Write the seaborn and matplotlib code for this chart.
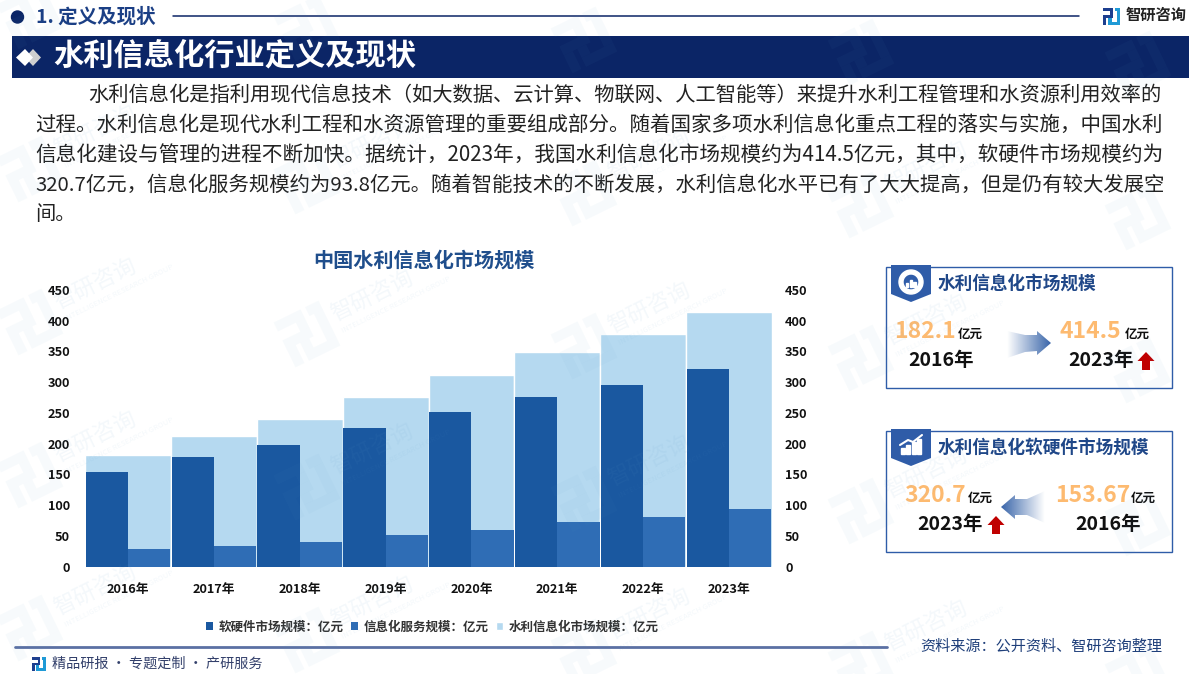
import matplotlib
matplotlib.use('Agg')
import matplotlib.pyplot as plt
import matplotlib.patches as mpatches
from matplotlib.colors import LinearSegmentedColormap
from matplotlib.transforms import Affine2D
import numpy as np
import pandas as pd
import seaborn as sns

# chart data
years = ['2016年', '2017年', '2018年', '2019年', '2020年', '2021年', '2022年', '2023年']
hardware = [153.67, 178, 198, 226, 251, 276, 295, 320.7]
service = [28.4, 34, 40, 51, 60, 72, 81, 93.8]
total = [182.1, 212, 240, 276.6, 312, 349, 378, 414.5]
y_ticks = [0, 50, 100, 150, 200, 250, 300, 350, 400, 450]

name_hardware = '软硬件市场规模：亿元'
name_service = '信息化服务规模：亿元'
name_total = '水利信息化市场规模：亿元'

# page text
body_lines = [
    '水利信息化是指利用现代信息技术（如大数据、云计算、物联网、人工智能等）来提升水利工程管理和水资源利用效率的',
    '过程。水利信息化是现代水利工程和水资源管理的重要组成部分。随着国家多项水利信息化重点工程的落实与实施，中国水利',
    '信息化建设与管理的进程不断加快。据统计，2023年，我国水利信息化市场规模约为414.5亿元，其中，软硬件市场规模约为',
    '320.7亿元，信息化服务规模约为93.8亿元。随着智能技术的不断发展，水利信息化水平已有了大大提高，但是仍有较大发展空',
    '间。',
]

sns.set_style('white')
plt.rcParams['font.family'] = ['Noto Sans CJK SC', 'DejaVu Sans']

NAVY = '#0b2566'
TITLE_BLUE = '#1f4e8c'
CARD_BLUE = '#2f5ca8'
ORANGE = '#fdba70'
RED = '#c00000'
WM = '#5c9ccb'

fig = plt.figure(figsize=(12, 6.74), dpi=100)

# page axes in pixel coordinates, under the chart
page = fig.add_axes([0, 0, 1, 1], zorder=0)
page.set_xlim(0, 1200)
page.set_ylim(674, 0)
page.axis('off')


def poly(ax, pts, color, **kw):
    ax.add_patch(mpatches.Polygon(pts, closed=True, facecolor=color, edgecolor='none', **kw))


def logo(ax, x, y, s, c1, c2, rot=0, **kw):
    # the three-stroke company mark, s is the width of it
    u = s / 10
    boxes = [
        (0, 0, 6, 2, c1), (4, 2, 2, 2, c1), (0, 4, 6, 2, c1), (0, 6, 2, 4, c1),
        (7, 0, 3, 2, c2), (8, 2, 2, 6, c2), (3, 8, 7, 2, c2), (3, 6, 2, 2, c2),
    ]
    tr = Affine2D().rotate_deg_around(x + s / 2, y + s / 2, rot) + ax.transData
    for bx, by, bw, bh, c in boxes:
        ax.add_patch(mpatches.Rectangle((x + bx * u, y + by * u), bw * u, bh * u,
                                        facecolor=c, edgecolor='none', transform=tr, **kw))


def gradient_arrow(ax, pts, left_col, right_col):
    cmap = LinearSegmentedColormap.from_list('arr', [left_col, right_col])
    xs = [p[0] for p in pts]
    ys = [p[1] for p in pts]
    im = ax.imshow(np.linspace(0, 1, 64).reshape(1, -1), cmap=cmap, aspect='auto',
                   extent=(min(xs), max(xs), max(ys), min(ys)), zorder=3)
    clip = mpatches.Polygon(pts, closed=True, transform=ax.transData)
    im.set_clip_path(clip)
    ax.set_xlim(0, 1200)
    ax.set_ylim(674, 0)


def up_arrow(ax, cx, top):
    poly(ax, [(cx, top), (cx + 8.5, top + 9), (cx + 4, top + 9), (cx + 4, top + 18),
              (cx - 4, top + 18), (cx - 4, top + 9), (cx - 8.5, top + 9)], RED, zorder=3)


# header
page.add_patch(mpatches.Circle((17.5, 17), 6, color=NAVY))
page.text(36, 17, '1. 定义及现状', fontsize=14, fontweight='bold', color='#1b3f85', va='center')
page.plot([173, 1079], [16, 16], color=NAVY, lw=1.1)
logo(page, 1103, 8, 17, '#1d3f8f', '#1f9ad6')
page.text(1126, 15, '智研咨询', fontsize=11, fontweight='bold', color='#222222', va='center')

page.add_patch(mpatches.Rectangle((12, 36), 1177, 42, facecolor=NAVY, edgecolor='none'))
poly(page, [(33, 49), (41, 57.5), (33, 66), (25, 57.5)], '#cfcfcf', zorder=3)
poly(page, [(25, 49), (33, 57.5), (25, 66), (16, 57.5)], 'white', zorder=3)
page.text(53, 56, '水利信息化行业定义及现状', fontsize=21.8, fontweight='bold', color='white',
          va='center', zorder=3)

# body text, lines are fitted to the right margin like the justified original
renderer = fig.canvas.get_renderer()
line_x = [88, 35, 35, 35, 35]
line_y = [95, 125, 155, 185, 215]
for i, (s, lx, ly) in enumerate(zip(body_lines, line_x, line_y)):
    t = page.text(lx, ly, s, fontsize=14.6, color='#222222', va='center')
    if i < 4:
        t.set_fontsize(14.6 * (1162 - lx) / t.get_window_extent(renderer).width)

page.text(424, 260, '中国水利信息化市场规模', fontsize=14.5, fontweight='bold', color=TITLE_BLUE,
          ha='center', va='center')


def card(ax, top, title, icon):
    ax.add_patch(mpatches.Rectangle((885.5, top), 286, 121, facecolor='none',
                                    edgecolor=CARD_BLUE, lw=1))
    poly(ax, [(891, top - 2), (931, top - 2), (931, top + 27), (911, top + 35), (891, top + 27)],
         CARD_BLUE, zorder=3)
    ax.text(938, top + 17, title, fontsize=12.7, fontweight='bold', color='#1f4788', va='center')
    cx, cy = 911, top + 15
    if icon == 'donut':
        ax.add_patch(mpatches.Wedge((cx, cy), 12, 0, 360, width=4, color='white', zorder=4))
        for i, h in enumerate([4, 7, 5]):
            ax.add_patch(mpatches.Rectangle((cx - 5 + i * 3.6, cy + 5 - h), 2.4, h, color='white', zorder=4))
    else:
        for i, h in enumerate([6, 9, 12, 15]):
            ax.add_patch(mpatches.Rectangle((cx - 10 + i * 5.4, cy + 8 - h), 3.8, h, color='white', zorder=4))
        ax.plot([cx - 11, cx - 3, cx + 2, cx + 11], [cy - 1, cy - 6, cy - 4, cy - 11], color='white', lw=1.5, zorder=4)


def big_value(ax, x, y, value, unit_x):
    ax.text(x, y, value, fontsize=16.5, fontweight='bold', color=ORANGE, va='center', zorder=3)
    ax.text(unit_x, y + 2, '亿元', fontsize=9, fontweight='bold', color='#111111', va='center', zorder=3)


def year_label(ax, x, y, s):
    ax.text(x, y, s, fontsize=14, fontweight='bold', color='#111111', va='center', zorder=3)


card(page, 267, '水利信息化市场规模', 'donut')
big_value(page, 894, 332, '182.1', 958)
big_value(page, 1059, 332, '414.5', 1125)
year_label(page, 908, 361, '2016年')
year_label(page, 1068, 361, '2023年')
up_arrow(page, 1146, 352)
gradient_arrow(page, [(1007, 331), (1025, 335), (1037, 335), (1037, 331), (1051, 343),
                      (1037, 355), (1037, 351), (1025, 352), (1007, 358)], '#ffffff', '#3a66aa')

card(page, 431, '水利信息化软硬件市场规模', 'chart')
big_value(page, 904, 496, '320.7', 968)
big_value(page, 1055, 496, '153.67', 1131)
year_label(page, 917, 525, '2023年')
year_label(page, 1075, 525, '2016年')
up_arrow(page, 996, 516)
gradient_arrow(page, [(1045, 491), (1027, 499), (1015, 499), (1015, 495), (1001, 507),
                      (1015, 519), (1015, 515), (1027, 515), (1045, 523)], '#3a66aa', '#ffffff')

# footer
page.plot([15, 887], [647, 647], color='#5b70a3', lw=2)
page.text(920, 646, '资料来源：公开资料、智研咨询整理', fontsize=10.9, color='#1f3f7a', va='center')
logo(page, 32, 657, 14, '#1d3f8f', '#1f9ad6')
page.text(52, 664, '精品研报 · 专题定制 · 产研服务', fontsize=10.2, color='#33406b', va='center')

# bar chart
w, h = 1200, 674
ax = fig.add_axes([85 / w, 1 - 566.5 / h, 687 / w, 276.5 / h], zorder=2)
ax.patch.set_alpha(0)

df = pd.DataFrame({'year': years, name_hardware: hardware, name_service: service})
df_long = df.melt(id_vars='year', var_name='series', value_name='value')

sns.barplot(x=years, y=total, color='#b5d9f0', saturation=1, width=1, edgecolor='white',
            linewidth=1, label=name_total, ax=ax)
sns.barplot(data=df_long, x='year', y='value', hue='series',
            palette=['#1a58a0', '#2f6db5'], saturation=1, width=0.985, linewidth=0, ax=ax)

ax.set_ylim(0, 450)
ax.set_yticks(y_ticks)
ax.set_xlabel('')
ax.set_ylabel('')
ax.tick_params(axis='both', length=0, labelsize=9.2)
ax.tick_params(axis='y', pad=10.8)
ax.tick_params(axis='x', pad=12)
for lab in ax.get_xticklabels() + ax.get_yticklabels():
    lab.set_fontweight('bold')
    lab.set_color('#111111')
sns.despine(ax=ax, left=True, bottom=True)

ax2 = ax.twinx()
ax2.set_ylim(0, 450)
ax2.set_yticks(y_ticks)
ax2.tick_params(axis='y', length=0, labelsize=9.2, pad=9.4)
for lab in ax2.get_yticklabels():
    lab.set_fontweight('bold')
    lab.set_color('#111111')
sns.despine(ax=ax2, left=True, bottom=True, right=True)

handles, labels = ax.get_legend_handles_labels()
order = [labels.index(name_hardware), labels.index(name_service), labels.index(name_total)]
leg = ax.legend([handles[i] for i in order], [labels[i] for i in order], ncol=3,
                loc='center', bbox_to_anchor=(432 / w, 1 - 627 / h), bbox_transform=fig.transFigure,
                frameon=False, fontsize=9, handlelength=0.6, handleheight=0.6, handletextpad=0.4,
                columnspacing=0.6, borderpad=0)
for t in leg.get_texts():
    t.set_fontweight('bold')
    t.set_color('#333333')

# watermark over everything, very faint
mark = fig.add_axes([0, 0, 1, 1], zorder=5)
mark.set_xlim(0, 1200)
mark.set_ylim(674, 0)
mark.axis('off')
mark.patch.set_alpha(0)
for row in range(-2, 3):
    for col in range(5):
        wx = 30 + 277 * col
        wy = 322 + 153 * row + 12 * col
        logo(mark, wx - 25, wy - 25, 50, WM, WM, rot=-26, alpha=0.045)
        # only marks that stay on the page get their lettering
        if wx + 110 < 1190 and wy - 60 > 4:
            mark.text(wx + 25, wy - 18, '智研咨询', fontsize=16, color=WM, alpha=0.07,
                      rotation=26, rotation_mode='anchor', ha='left', va='center')
        if wx + 140 < 1190 and wy - 55 > 4:
            mark.text(wx + 35, wy - 3, 'INTELLIGENCE RESEARCH GROUP', fontsize=5.5, color=WM,
                      alpha=0.07, rotation=26, rotation_mode='anchor', ha='left', va='center')

fig.savefig('out.png', dpi=100)
